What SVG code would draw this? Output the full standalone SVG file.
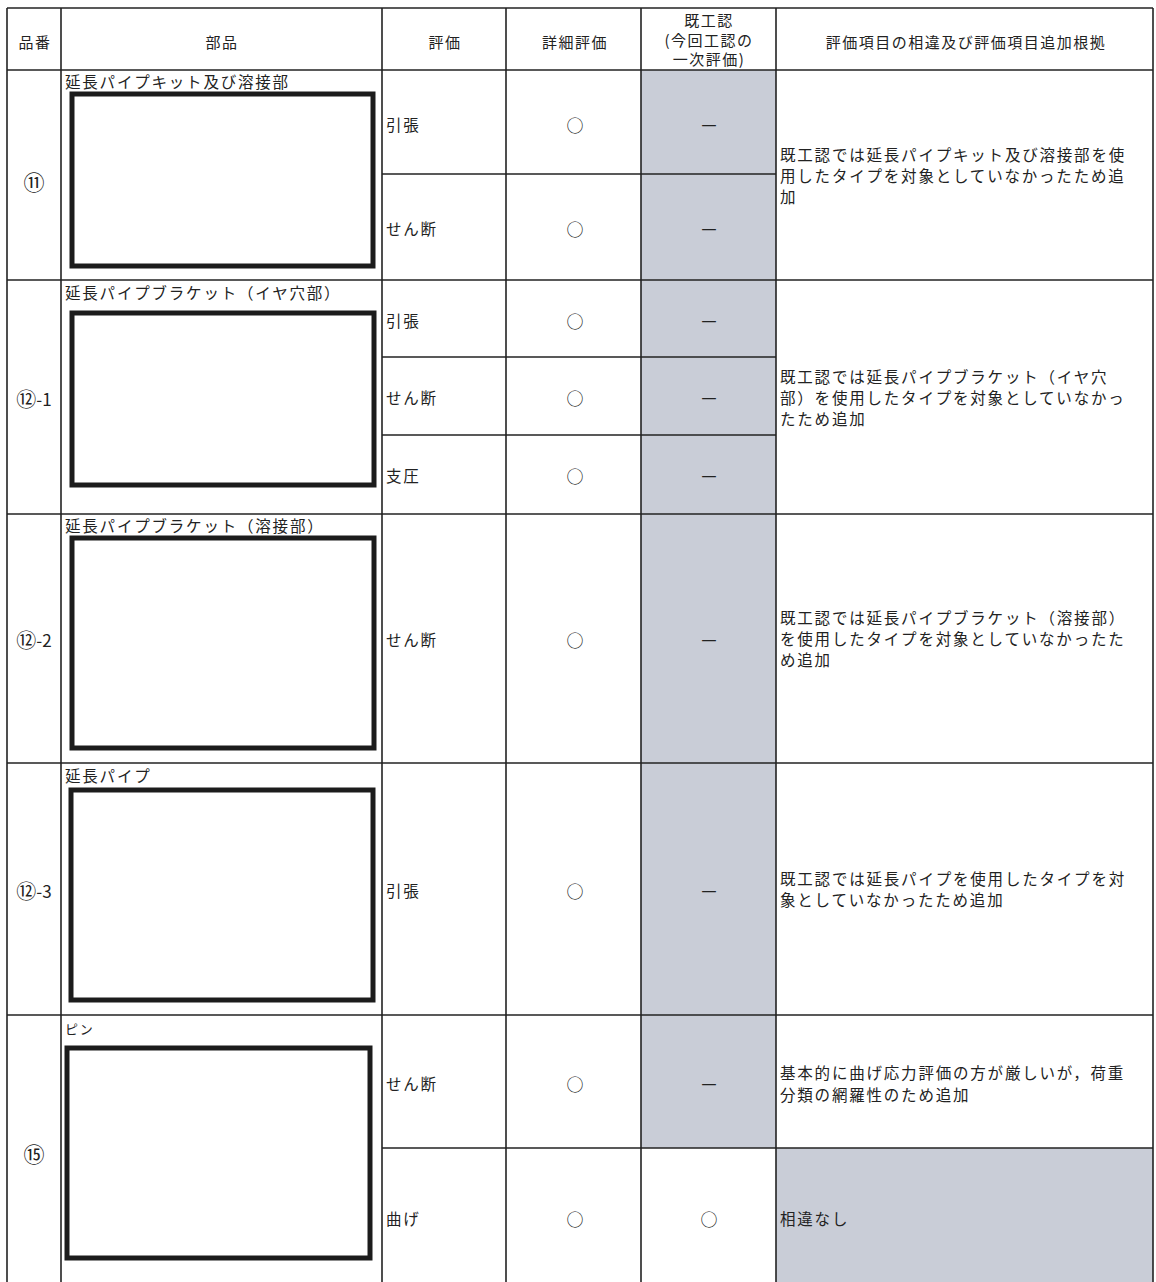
<svg xmlns="http://www.w3.org/2000/svg" width="1156" height="1282" viewBox="0 0 1156 1282">
<style>
  text { font-family: "Noto Sans CJK JP", "Noto Sans", sans-serif; fill: #222; font-size: 15.5px; dominant-baseline: central; }
  .c { text-anchor: middle; }
  .b { letter-spacing: 1.8px; }
  .h { font-size: 15px; letter-spacing: 1.5px; }
  .n { font-size: 17px; }
  .ci { font-size: 21px; }
  .grid { stroke: #222; stroke-width: 1.6; fill: none; }
  .shade { fill: #c9cdd7; }
  .pic { fill: #fff; stroke: #1c1c1c; stroke-width: 5; }
  .mark { font-size: 17px; }
  .dash { font-size: 19px; }
</style>
<rect x="0" y="0" width="1156" height="1282" fill="#fff"/>
<g id="shading">
  <rect class="shade" x="641" y="70" width="135" height="1078"/>
  <rect class="shade" x="776" y="1148" width="377" height="134"/>
</g>
<g id="grid" class="grid">
  <line x1="7" y1="8" x2="1153" y2="8"/>
  <line x1="7" y1="70" x2="1153" y2="70"/>
  <line x1="7" y1="8" x2="7" y2="1282"/>
  <line x1="61" y1="8" x2="61" y2="1282"/>
  <line x1="382" y1="8" x2="382" y2="1282"/>
  <line x1="506" y1="8" x2="506" y2="1282"/>
  <line x1="641" y1="8" x2="641" y2="1282"/>
  <line x1="776" y1="8" x2="776" y2="1282"/>
  <line x1="1153" y1="8" x2="1153" y2="1282"/>
  <line x1="382" y1="174" x2="776" y2="174"/>
  <line x1="7" y1="280" x2="1153" y2="280"/>
  <line x1="382" y1="357" x2="776" y2="357"/>
  <line x1="382" y1="435" x2="776" y2="435"/>
  <line x1="7" y1="514" x2="1153" y2="514"/>
  <line x1="7" y1="763" x2="1153" y2="763"/>
  <line x1="7" y1="1015" x2="1153" y2="1015"/>
  <line x1="382" y1="1148" x2="1153" y2="1148"/>
</g>
<g id="header">
  <text class="c h" x="35" y="41">品番</text>
  <text class="c h" x="222" y="41">部品</text>
  <text class="c h" x="445" y="41">評価</text>
  <text class="c h" x="575" y="41">詳細評価</text>
  <text class="c h" x="709" y="19">既工認</text>
  <text class="c h" x="709" y="39">(今回工認の</text>
  <text class="c h" x="709" y="58">一次評価)</text>
  <text class="c h" x="966" y="41">評価項目の相違及び評価項目追加根拠</text>
</g>
<g id="row-11">
  <text class="c ci" x="34" y="181">⑪</text>
  <text class="b" x="65" y="81">延長パイプキット及び溶接部</text>
  <rect class="pic" x="72" y="94" width="301" height="172"/>
  <text class="b" x="386" y="124">引張</text>
  <text class="b" x="386" y="228">せん断</text>
  <text class="c mark" x="575" y="124">○</text>
  <text class="c mark" x="575" y="228">○</text>
  <text class="c dash" x="709" y="124">－</text>
  <text class="c dash" x="709" y="228">－</text>
  <text class="b" x="780" y="154">既工認では延長パイプキット及び溶接部を使</text>
  <text class="b" x="780" y="175">用したタイプを対象としていなかったため追</text>
  <text class="b" x="780" y="196">加</text>
</g>
<g id="row-12-1">
  <text class="c n" x="34" y="398"><tspan style="font-size:20px">⑫</tspan>-1</text>
  <text class="b" x="65" y="292">延長パイプブラケット（イヤ穴部）</text>
  <rect class="pic" x="72" y="313" width="302" height="172"/>
  <text class="b" x="386" y="320">引張</text>
  <text class="b" x="386" y="397">せん断</text>
  <text class="b" x="386" y="475">支圧</text>
  <text class="c mark" x="575" y="320">○</text>
  <text class="c mark" x="575" y="397">○</text>
  <text class="c mark" x="575" y="475">○</text>
  <text class="c dash" x="709" y="320">－</text>
  <text class="c dash" x="709" y="397">－</text>
  <text class="c dash" x="709" y="475">－</text>
  <text class="b" x="780" y="376">既工認では延長パイプブラケット（イヤ穴</text>
  <text class="b" x="780" y="397">部）を使用したタイプを対象としていなかっ</text>
  <text class="b" x="780" y="418">たため追加</text>
</g>
<g id="row-12-2">
  <text class="c n" x="34" y="639"><tspan style="font-size:20px">⑫</tspan>-2</text>
  <text class="b" x="65" y="525">延長パイプブラケット（溶接部）</text>
  <rect class="pic" x="72" y="538" width="302" height="210"/>
  <text class="b" x="386" y="639">せん断</text>
  <text class="c mark" x="575" y="639">○</text>
  <text class="c dash" x="709" y="639">－</text>
  <text class="b" x="780" y="617">既工認では延長パイプブラケット（溶接部）</text>
  <text class="b" x="780" y="638">を使用したタイプを対象としていなかったた</text>
  <text class="b" x="780" y="659">め追加</text>
</g>
<g id="row-12-3">
  <text class="c n" x="34" y="890"><tspan style="font-size:20px">⑫</tspan>-3</text>
  <text class="b" x="65" y="775">延長パイプ</text>
  <rect class="pic" x="71" y="790" width="302" height="210"/>
  <text class="b" x="386" y="890">引張</text>
  <text class="c mark" x="575" y="890">○</text>
  <text class="c dash" x="709" y="890">－</text>
  <text class="b" x="780" y="878">既工認では延長パイプを使用したタイプを対</text>
  <text class="b" x="780" y="899">象としていなかったため追加</text>
</g>
<g id="row-15">
  <text class="c ci" x="34" y="1153">⑮</text>
  <text class="b" x="65" y="1028" style="font-size:13px">ピン</text>
  <rect class="pic" x="67" y="1048" width="303" height="210"/>
  <text class="b" x="386" y="1083">せん断</text>
  <text class="b" x="386" y="1218">曲げ</text>
  <text class="c mark" x="575" y="1083">○</text>
  <text class="c mark" x="575" y="1218">○</text>
  <text class="c dash" x="709" y="1083">－</text>
  <text class="c mark" x="709" y="1218">○</text>
  <text class="b" x="780" y="1072">基本的に曲げ応力評価の方が厳しいが，荷重</text>
  <text class="b" x="780" y="1094">分類の網羅性のため追加</text>
  <text class="b" x="780" y="1218">相違なし</text>
</g>
</svg>
